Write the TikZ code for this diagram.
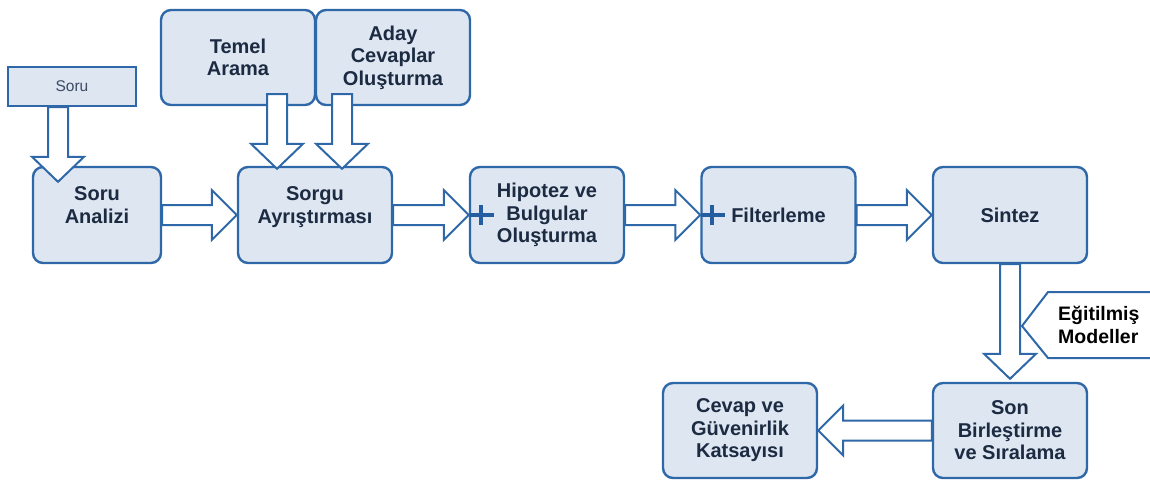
\documentclass[tikz,border=0pt]{standalone}
\usepackage{fontspec}
\setmainfont{Liberation Sans}
\usetikzlibrary{calc}

\definecolor{boxblue}{RGB}{46,104,168}
\definecolor{boxfill}{RGB}{221,230,241}
\definecolor{textnavy}{RGB}{28,43,66}
\definecolor{plusblue}{RGB}{36,94,160}

\tikzset{
    box/.style={draw=boxblue, fill=boxfill, line width=2.4pt, rounded corners=10pt,
        minimum width=154, minimum height=96, align=center, inner sep=2pt,
        text=textnavy, font=\fontsize{20}{22.5}\selectfont\bfseries},
    blockarrow/.style={draw=boxblue, fill=white, line width=2pt, line join=miter},
    plussign/.style={draw=plusblue, line width=4pt},
}

% block arrows: #1 start, #2 tip
\newcommand{\blockright}[2]{%
    \draw[blockarrow] let \p1=#1, \p2=#2 in
        (\x1,\y1+10) -- (\x2-25,\y1+10) -- (\x2-25,\y1+25) -- (\x2,\y1)
        -- (\x2-25,\y1-25) -- (\x2-25,\y1-10) -- (\x1,\y1-10) -- cycle;}
\newcommand{\blockleft}[2]{%
    \draw[blockarrow] let \p1=#1, \p2=#2 in
        (\x1,\y1+10) -- (\x2+25,\y1+10) -- (\x2+25,\y1+25) -- (\x2,\y1)
        -- (\x2+25,\y1-25) -- (\x2+25,\y1-10) -- (\x1,\y1-10) -- cycle;}
\newcommand{\blockdown}[2]{%
    \draw[blockarrow] let \p1=#1, \p2=#2 in
        (\x1-10,\y1) -- (\x1-10,\y2+25) -- (\x1-26,\y2+25) -- (\x1,\y2)
        -- (\x1+26,\y2+25) -- (\x1+10,\y2+25) -- (\x1+10,\y1) -- cycle;}

\begin{document}
\begin{tikzpicture}[x=1pt, y=-1pt]
    \useasboundingbox (0,0) rectangle (1150,483);

    % input
    \node[draw=boxblue, fill=boxfill, line width=2.4pt, minimum width=128, minimum height=39,
        text={rgb,255:red,60;green,75;blue,100}, font=\fontsize{15.5}{17}\selectfont] (soru) at (72,86.5) {Soru};

    % boxes
    \node[box, minimum width=128, text depth=20pt] (ana) at (97,215) {Soru\\Analizi};
    \node[box, minimum height=95] (temel) at (238,57.5) {Temel\\Arama};
    \node[box, minimum height=95] (aday) at (393,57.5) {Aday\\Cevaplar\\Oluşturma};
    \node[box, text depth=20pt] (sorgu) at (315,215) {Sorgu\\Ayrıştırması};
    \node[box] (hip) at (547,215) {Hipotez ve\\Bulgular\\Oluşturma};
    \node[box] (filt) at (778.5,215) {Filterleme};
    \node[box] (sintez) at (1010,215) {Sintez};
    \node[box, minimum height=95] (son) at (1010,430.5) {Son\\Birleştirme\\ve Sıralama};
    \node[box, minimum height=95] (cevap) at (740,430.5) {Cevap ve\\Güvenirlik\\Katsayısı};

    % plus marks
    \draw[plussign] ([xshift=1pt]hip.west) -- ++(24,0);
    \draw[plussign] ([xshift=12pt,yshift=10pt]hip.west) -- ++(0,20);
    \draw[plussign] ([xshift=1pt]filt.west) -- ++(24,0);
    \draw[plussign] ([xshift=12pt,yshift=10pt]filt.west) -- ++(0,20);

    % trained models callout
    \draw[draw=boxblue, fill=white, line width=2pt] (1160,292) -- (1048,292) -- (1022,326) -- (1048,358) -- (1160,358);
    \node[anchor=west, align=left, inner sep=0pt,
        font=\fontsize{19.5}{23.5}\selectfont\bfseries] (model) at (1058,325) {Eğitilmiş\\Modeller};

    % arrows
    \blockdown{([xshift=-14pt]soru.south)}{([yshift=-16pt]ana.north)}
    \blockright{(ana.east)}{(sorgu.west)}
    \blockdown{([xshift=39pt,yshift=12pt]temel.south)}{([yshift=-3pt]sorgu.north)}
    \blockdown{([xshift=-51pt,yshift=12pt]aday.south)}{([yshift=-3pt]sorgu.north)}
    \blockright{(sorgu.east)}{(hip.west)}
    \blockright{(hip.east)}{(filt.west)}
    \blockright{(filt.east)}{(sintez.west)}
    \blockdown{(sintez.south)}{([yshift=3pt]son.north)}
    \blockleft{(son.west)}{(cevap.east)}
\end{tikzpicture}
\end{document}
